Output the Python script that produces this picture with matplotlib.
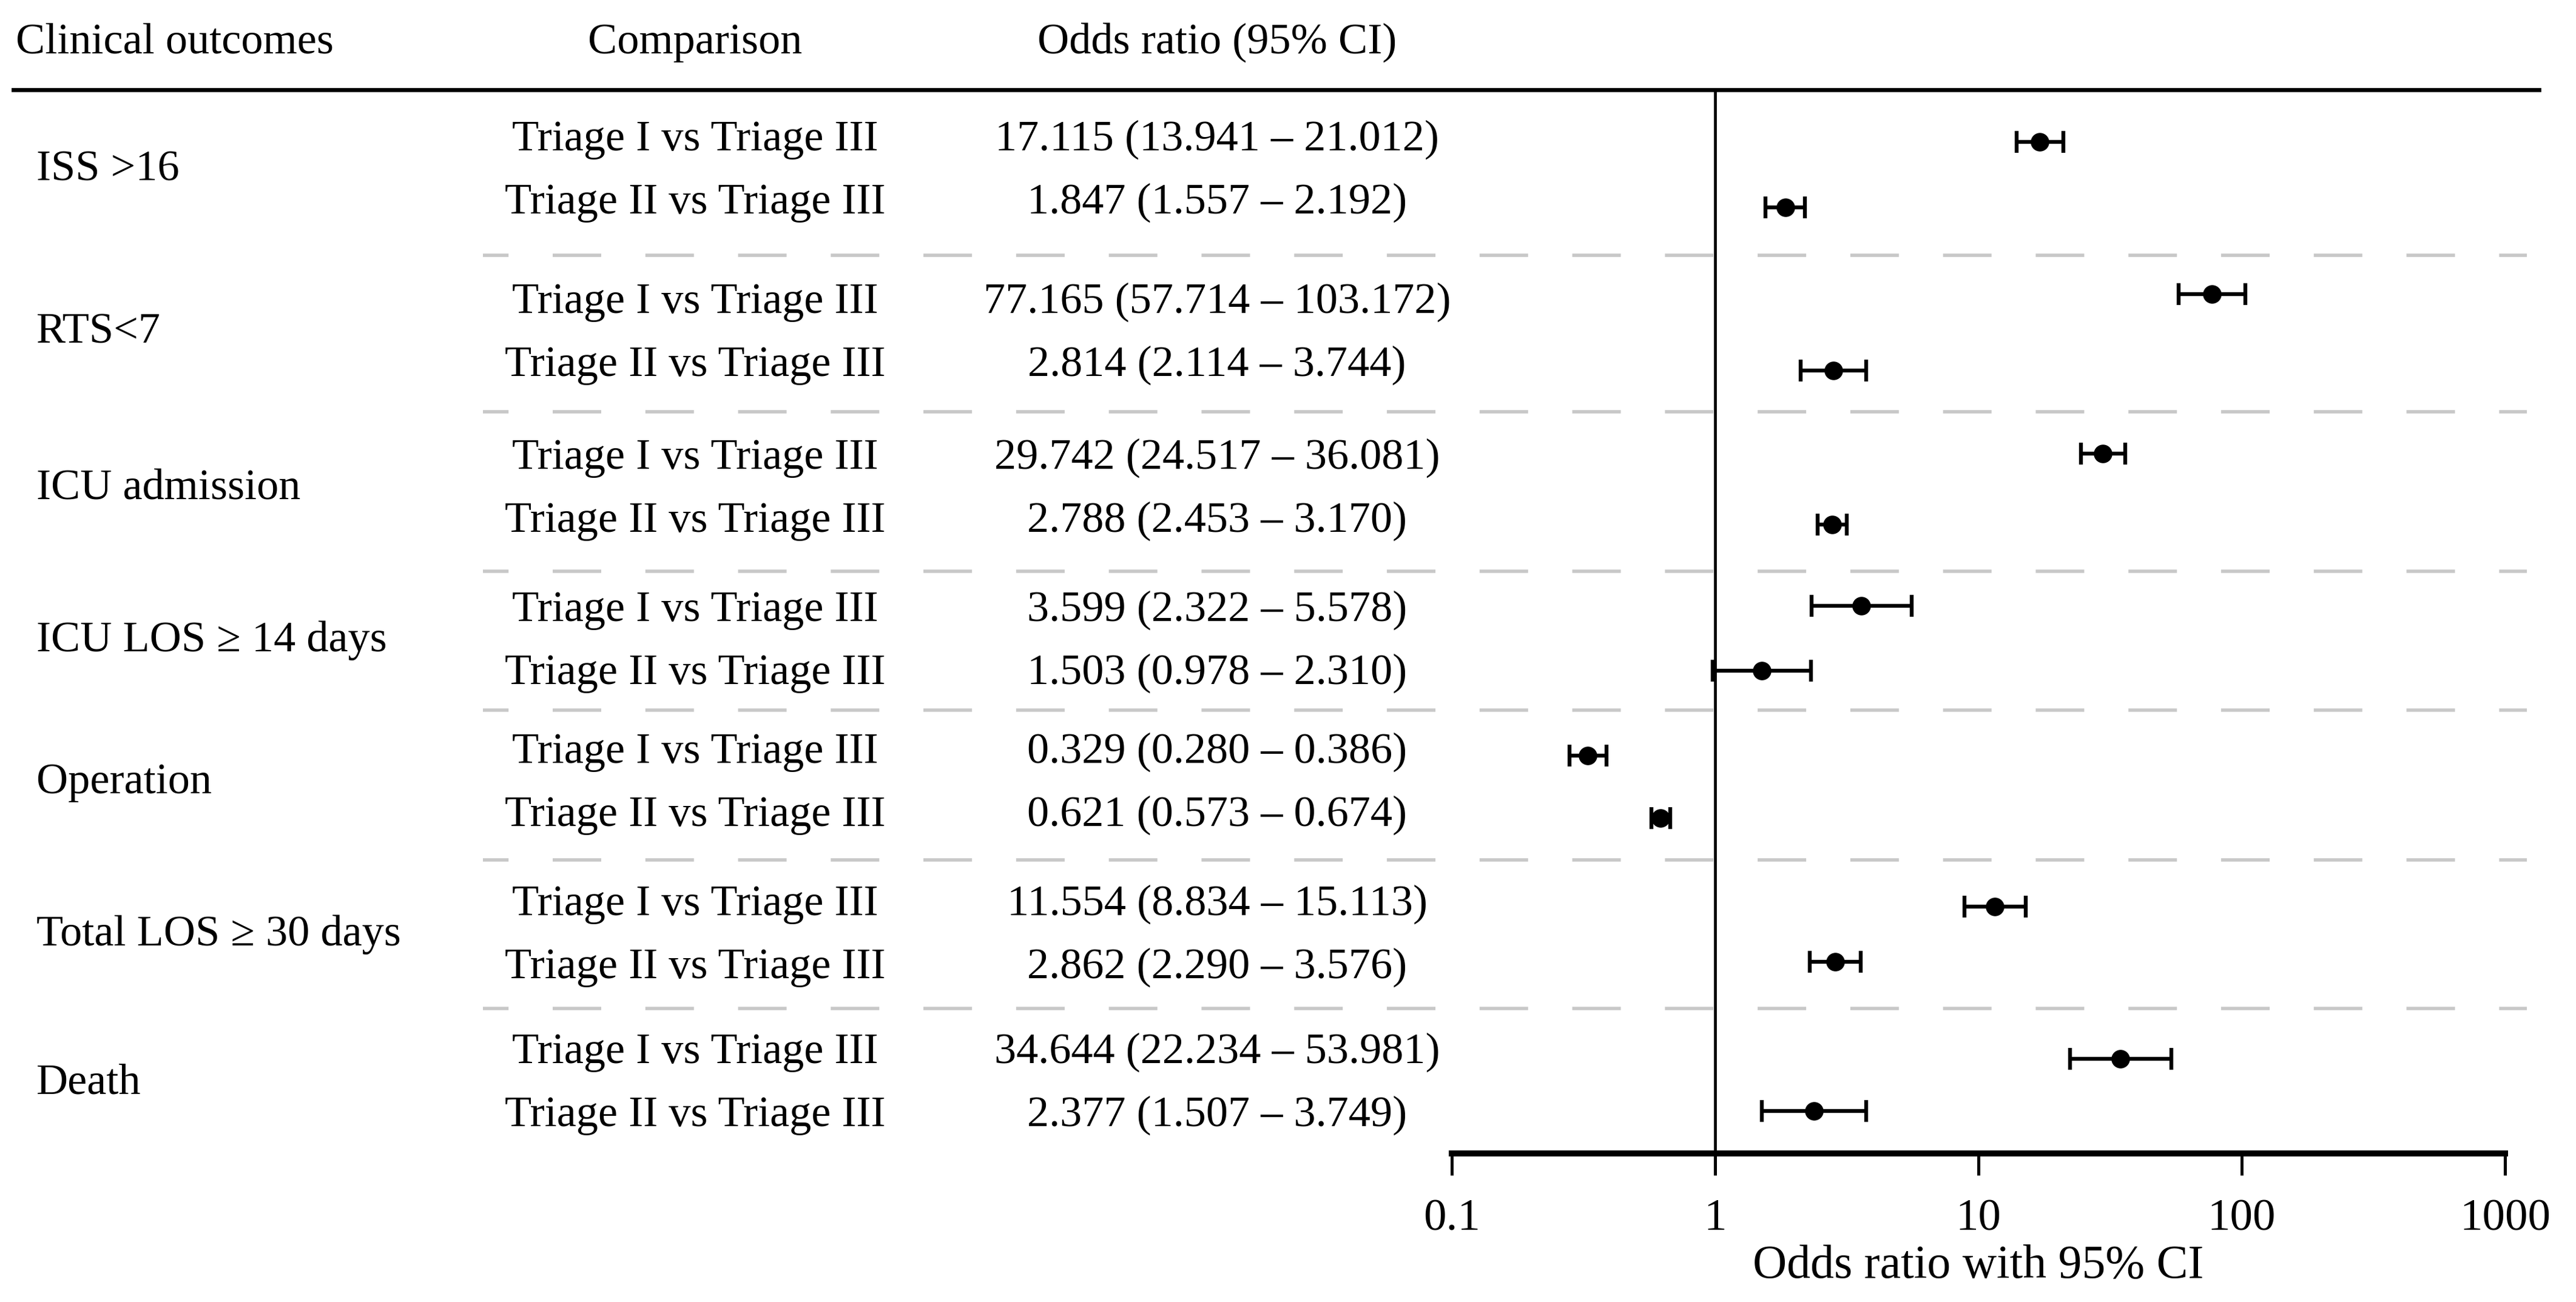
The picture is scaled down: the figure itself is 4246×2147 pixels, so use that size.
import numpy as np
import matplotlib
matplotlib.use("Agg")
import matplotlib.pyplot as plt
from matplotlib import transforms
from matplotlib.lines import Line2D

# ---- data ----
outcomes = ["ISS >16", "RTS<7", "ICU admission", "ICU LOS \u2265 14 days",
            "Operation", "Total LOS \u2265 30 days", "Death"]
comparisons = ["Triage I vs Triage III", "Triage II vs Triage III"]

or_t1 = [17.115, 77.165, 29.742, 3.599, 0.329, 11.554, 34.644]
lo_t1 = [13.941, 57.714, 24.517, 2.322, 0.280, 8.834, 22.234]
hi_t1 = [21.012, 103.172, 36.081, 5.578, 0.386, 15.113, 53.981]

or_t2 = [1.847, 2.814, 2.788, 1.503, 0.621, 2.862, 2.377]
lo_t2 = [1.557, 2.114, 2.453, 0.978, 0.573, 2.290, 1.507]
hi_t2 = [2.192, 3.744, 3.170, 2.310, 0.674, 3.576, 3.749]

tick_vals = [0.1, 1, 10, 100, 1000]
tick_labels = ["0.1", "1", "10", "100", "1000"]

# ---- layout (pixel rows from the top of the image) ----
W, H, DPI = 4246, 2147, 200
top_y, axis_y = 148, 1902
text_base1 = np.array([248, 516, 773, 1024, 1258, 1509, 1753])   # text baselines, 1st row
text_base2 = text_base1 + 104
mark_y1 = np.array([234, 485, 748, 999, 1246, 1495, 1746])       # marker rows
mark_y2 = np.array([342, 611, 865, 1106, 1349, 1586, 1832])
sep_y = [421, 679, 942, 1171, 1418, 1663]

plt.rcParams["font.family"] = ["Liberation Serif", "DejaVu Serif"]
plt.rcParams["font.size"] = 26

fig = plt.figure(figsize=(W / DPI, H / DPI), dpi=DPI)
ax_left, ax_right = 2393 / W, 4129 / W
ax = fig.add_axes([ax_left, 1 - axis_y / H, ax_right - ax_left, (axis_y - top_y) / H])

n = len(outcomes)
ax.set_xscale("log")
ax.set_xlim(0.1, 1000)
ax.set_ylim(axis_y, top_y)

ors = np.array(or_t1 + or_t2)
los = np.array(lo_t1 + lo_t2)
his = np.array(hi_t1 + hi_t2)
ys = np.concatenate([mark_y1, mark_y2])
ax.errorbar(ors, ys, xerr=[ors - los, his - ors], fmt="o", color="black",
            ms=10, elinewidth=2.3, capsize=6.4, capthick=2.3, clip_on=False, zorder=4)

ax.axvline(1, color="black", lw=1.7, zorder=3)

for s in ["top", "left", "right"]:
    ax.spines[s].set_visible(False)
ax.spines["bottom"].set_linewidth(3.6)
ax.set_yticks([])
ax.set_xticks(tick_vals)
ax.set_xticklabels(tick_labels)
ax.minorticks_off()
ax.tick_params(axis="x", direction="out", length=13, width=1.8, pad=14, labelsize=27)

# text columns
tr = transforms.blended_transform_factory(fig.transFigure, ax.transData)
x_out, x_cmp, x_or = 60 / W, 1146 / W, 2006 / W

ax.text(26 / W, 88, "Clinical outcomes", transform=tr, ha="left", va="baseline")
ax.text(x_cmp, 88, "Comparison", transform=tr, ha="center", va="baseline")
ax.text(x_or, 88, "Odds ratio (95% CI)", transform=tr, ha="center", va="baseline")

for i in range(n):
    ax.text(x_out, (text_base1[i] + text_base2[i]) / 2 - 2, outcomes[i], transform=tr,
            ha="left", va="baseline")
    ax.text(x_cmp, text_base1[i], comparisons[0], transform=tr, ha="center", va="baseline")
    ax.text(x_cmp, text_base2[i], comparisons[1], transform=tr, ha="center", va="baseline")
    ax.text(x_or, text_base1[i], f"{or_t1[i]:.3f} ({lo_t1[i]:.3f} \u2013 {hi_t1[i]:.3f})",
            transform=tr, ha="center", va="baseline")
    ax.text(x_or, text_base2[i], f"{or_t2[i]:.3f} ({lo_t2[i]:.3f} \u2013 {hi_t2[i]:.3f})",
            transform=tr, ha="center", va="baseline")

# grey dashed separators between outcome groups
for ysep in sep_y:
    ax.plot([796 / W, 4165 / W], [ysep, ysep], transform=tr, color="#c8c8c8",
            lw=2.0, linestyle=(6.8, (14.4, 13.1)), clip_on=False, zorder=1)

# header rule
fig.add_artist(Line2D([22 / W, 4185 / W], [1 - top_y / H] * 2, color="black", lw=2.4))

ax.text(10, 2107, "Odds ratio with 95% CI", ha="center", va="baseline",
        fontsize=28, clip_on=False)

fig.savefig("out.png", dpi=DPI)
